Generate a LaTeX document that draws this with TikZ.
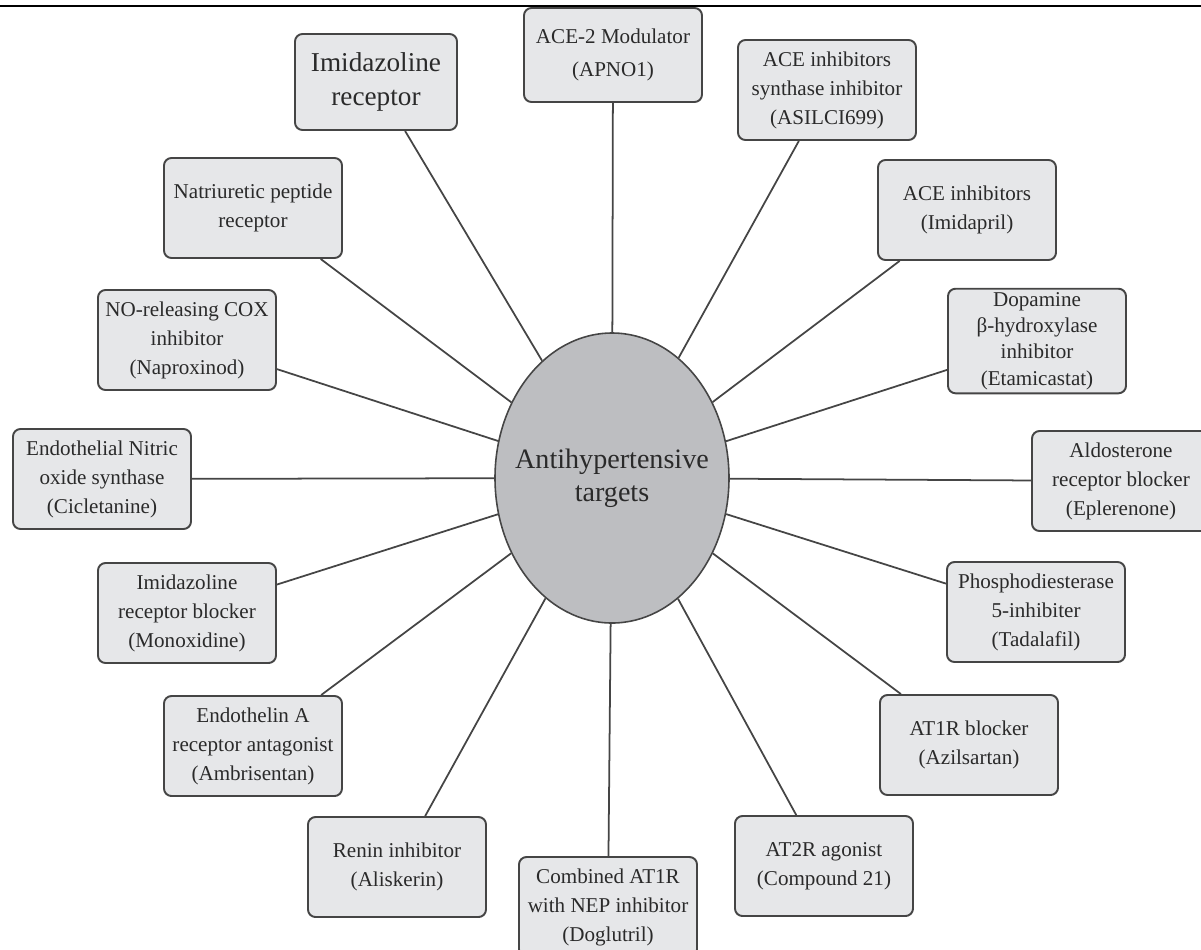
\documentclass[tikz,border=0pt]{standalone}
\usepackage{fontspec}
\setmainfont{Liberation Serif}
\usetikzlibrary{shapes.geometric}

\definecolor{boxfill}{HTML}{E6E7E9}
\definecolor{hubfill}{HTML}{BDBEC1}
\definecolor{edge}{HTML}{454545}
\definecolor{ink}{HTML}{2A2A2A}

\tikzset{
  target/.style={draw=edge, line width=1.1pt, fill=boxfill, rounded corners=0.15cm,
    minimum width=3.56cm, minimum height=2cm, inner sep=2pt, align=center,
    text=ink, font=\fontsize{12}{16.5}\selectfont},
  hub/.style={ellipse, draw=edge, line width=0.9pt, fill=hubfill, inner xsep=-10pt,
    inner ysep=0pt, minimum width=4.68cm, minimum height=5.8cm, align=center,
    text=ink, font=\fontsize{16}{19}\selectfont},
  spoke/.style={draw=edge, line width=1pt}
}

\begin{document}
\begin{tikzpicture}[x=0.2mm,y=-0.2mm]
\useasboundingbox (0,0) rectangle (1201,949);
\draw [line width=1.6pt] (0,6) -- (1201,6);

\node [hub] (hub) at (612,478) {Antihypertensive\\targets};

% upper half
\node [target, minimum width=3.24cm, minimum height=1.92cm, font=\fontsize{15.5}{19}\selectfont] (imid) at (376,82) {Imidazoline\\receptor};
\node [target, minimum height=1.88cm] (ace2) at (613,55) {ACE-2 Modulator\\[2pt](APNO1)};
\node [target] (acesyn) at (827,90) {ACE inhibitors\\synthase inhibitor\\(ASILCI699)};
\node [target] (acei) at (967,210) {ACE inhibitors\\(Imidapril)};
\node [target, font=\fontsize{12}{15}\selectfont] (dbh) at (1037,341) {Dopamine\\β-hydroxylase\\inhibitor\\(Etamicastat)};
\node [target] (ald) at (1121,481) {Aldosterone\\receptor blocker\\(Eplerenone)};
\node [target] (natr) at (253,208) {Natriuretic peptide\\receptor};
\node [target] (nocox) at (187,340) {NO-releasing COX\\inhibitor\\(Naproxinod)};
\node [target] (enos) at (102,479) {Endothelial Nitric\\oxide synthase\\(Cicletanine)};

% lower half
\node [target] (pde) at (1036,612) {Phosphodiesterase\\5-inhibiter\\(Tadalafil)};
\node [target] (at1) at (969,745) {AT1R blocker\\(Azilsartan)};
\node [target] (at2) at (824,866) {AT2R agonist\\(Compound 21)};
\node [target] (comb) at (608,907) {Combined AT1R\\with NEP inhibitor\\(Doglutril)};
\node [target] (renin) at (397,867) {Renin inhibitor\\(Aliskerin)};
\node [target] (endoa) at (253,746) {Endothelin A\\receptor antagonist\\(Ambrisentan)};
\node [target] (imblk) at (187,613) {Imidazoline\\receptor blocker\\(Monoxidine)};

\foreach \t in {imid,ace2,acesyn,acei,dbh,ald,pde,at1,at2,comb,renin,endoa,imblk,enos,nocox,natr}
  \draw [spoke] (hub) -- (\t);
\end{tikzpicture}
\end{document}
